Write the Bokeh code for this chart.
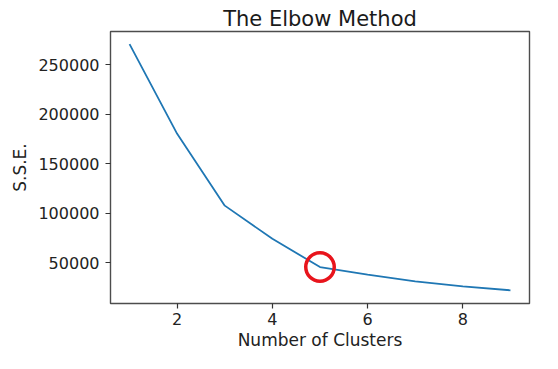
from bokeh.plotting import figure
from bokeh.models import Range1d, SingleIntervalTicker, BasicTickFormatter, ColumnDataSource
from bokeh.embed import file_html
from bokeh.resources import INLINE

clusters = [1, 2, 3, 4, 5, 6, 7, 8, 9]
sse = [270500, 180000, 107500, 74000, 45500, 37800, 31000, 26000, 22000]
elbow_k = 5
title_text = "The Elbow Method"
x_label = "Number of Clusters"
y_label = "S.S.E."

FONT = "DejaVu Sans"

def padded(lo, hi, frac=0.05):
    r = hi - lo
    return lo - frac * r, hi + frac * r

x0, x1 = padded(min(clusters), max(clusters))
y0, y1 = padded(min(sse), max(sse))

p = figure(width=542, height=353, output_backend="svg", toolbar_location=None,
           x_range=Range1d(x0, x1), y_range=Range1d(y0 - 900, y1 + 400),
           min_border_left=110, min_border_right=13, min_border_top=31, min_border_bottom=50)

p.title.text = title_text
p.title.align = "center"
p.title.text_font = FONT
p.title.text_font_size = "21px"
p.title.text_font_style = "normal"
p.title.text_color = "#1a1a1a"
p.title.standoff = 2
p.title.offset = 0

p.line(clusters, sse, line_color="#1f77b4", line_width=1.8)

src = ColumnDataSource(data=dict(x=[elbow_k], y=[sse[clusters.index(elbow_k)]]))
p.scatter("x", "y", source=src, size=28.5, fill_color=None,
          line_color="#e8141c", line_width=3.5)

p.xgrid.visible = False
p.ygrid.visible = False
p.outline_line_color = "#4d4d4d"
p.outline_line_width = 1.4
p.outline_line_alpha = 1.0

p.xaxis.ticker = SingleIntervalTicker(interval=2, num_minor_ticks=0)
p.yaxis.ticker = SingleIntervalTicker(interval=50000, num_minor_ticks=0)
p.yaxis.formatter = BasicTickFormatter(use_scientific=False)

for ax in (p.xaxis, p.yaxis):
    ax.axis_line_color = None
    ax.major_tick_out = 5
    ax.major_tick_in = 0
    ax.minor_tick_out = 0
    ax.minor_tick_in = 0
    ax.major_tick_line_color = "#333333"
    ax.major_tick_line_width = 1.2
    ax.major_label_text_font = FONT
    ax.major_label_text_font_size = "16px"
    ax.major_label_text_color = "#222222"
    ax.axis_label_text_font = FONT
    ax.axis_label_text_font_size = "17px"
    ax.axis_label_text_font_style = "normal"
    ax.axis_label_text_color = "#222222"

p.xaxis.major_label_standoff = 4
p.yaxis.major_label_standoff = 6
p.xaxis.axis_label = x_label
p.yaxis.axis_label = y_label
p.xaxis.axis_label_standoff = 2
p.yaxis.axis_label_standoff = 5

open("out.html", "w").write(file_html(p, INLINE))
